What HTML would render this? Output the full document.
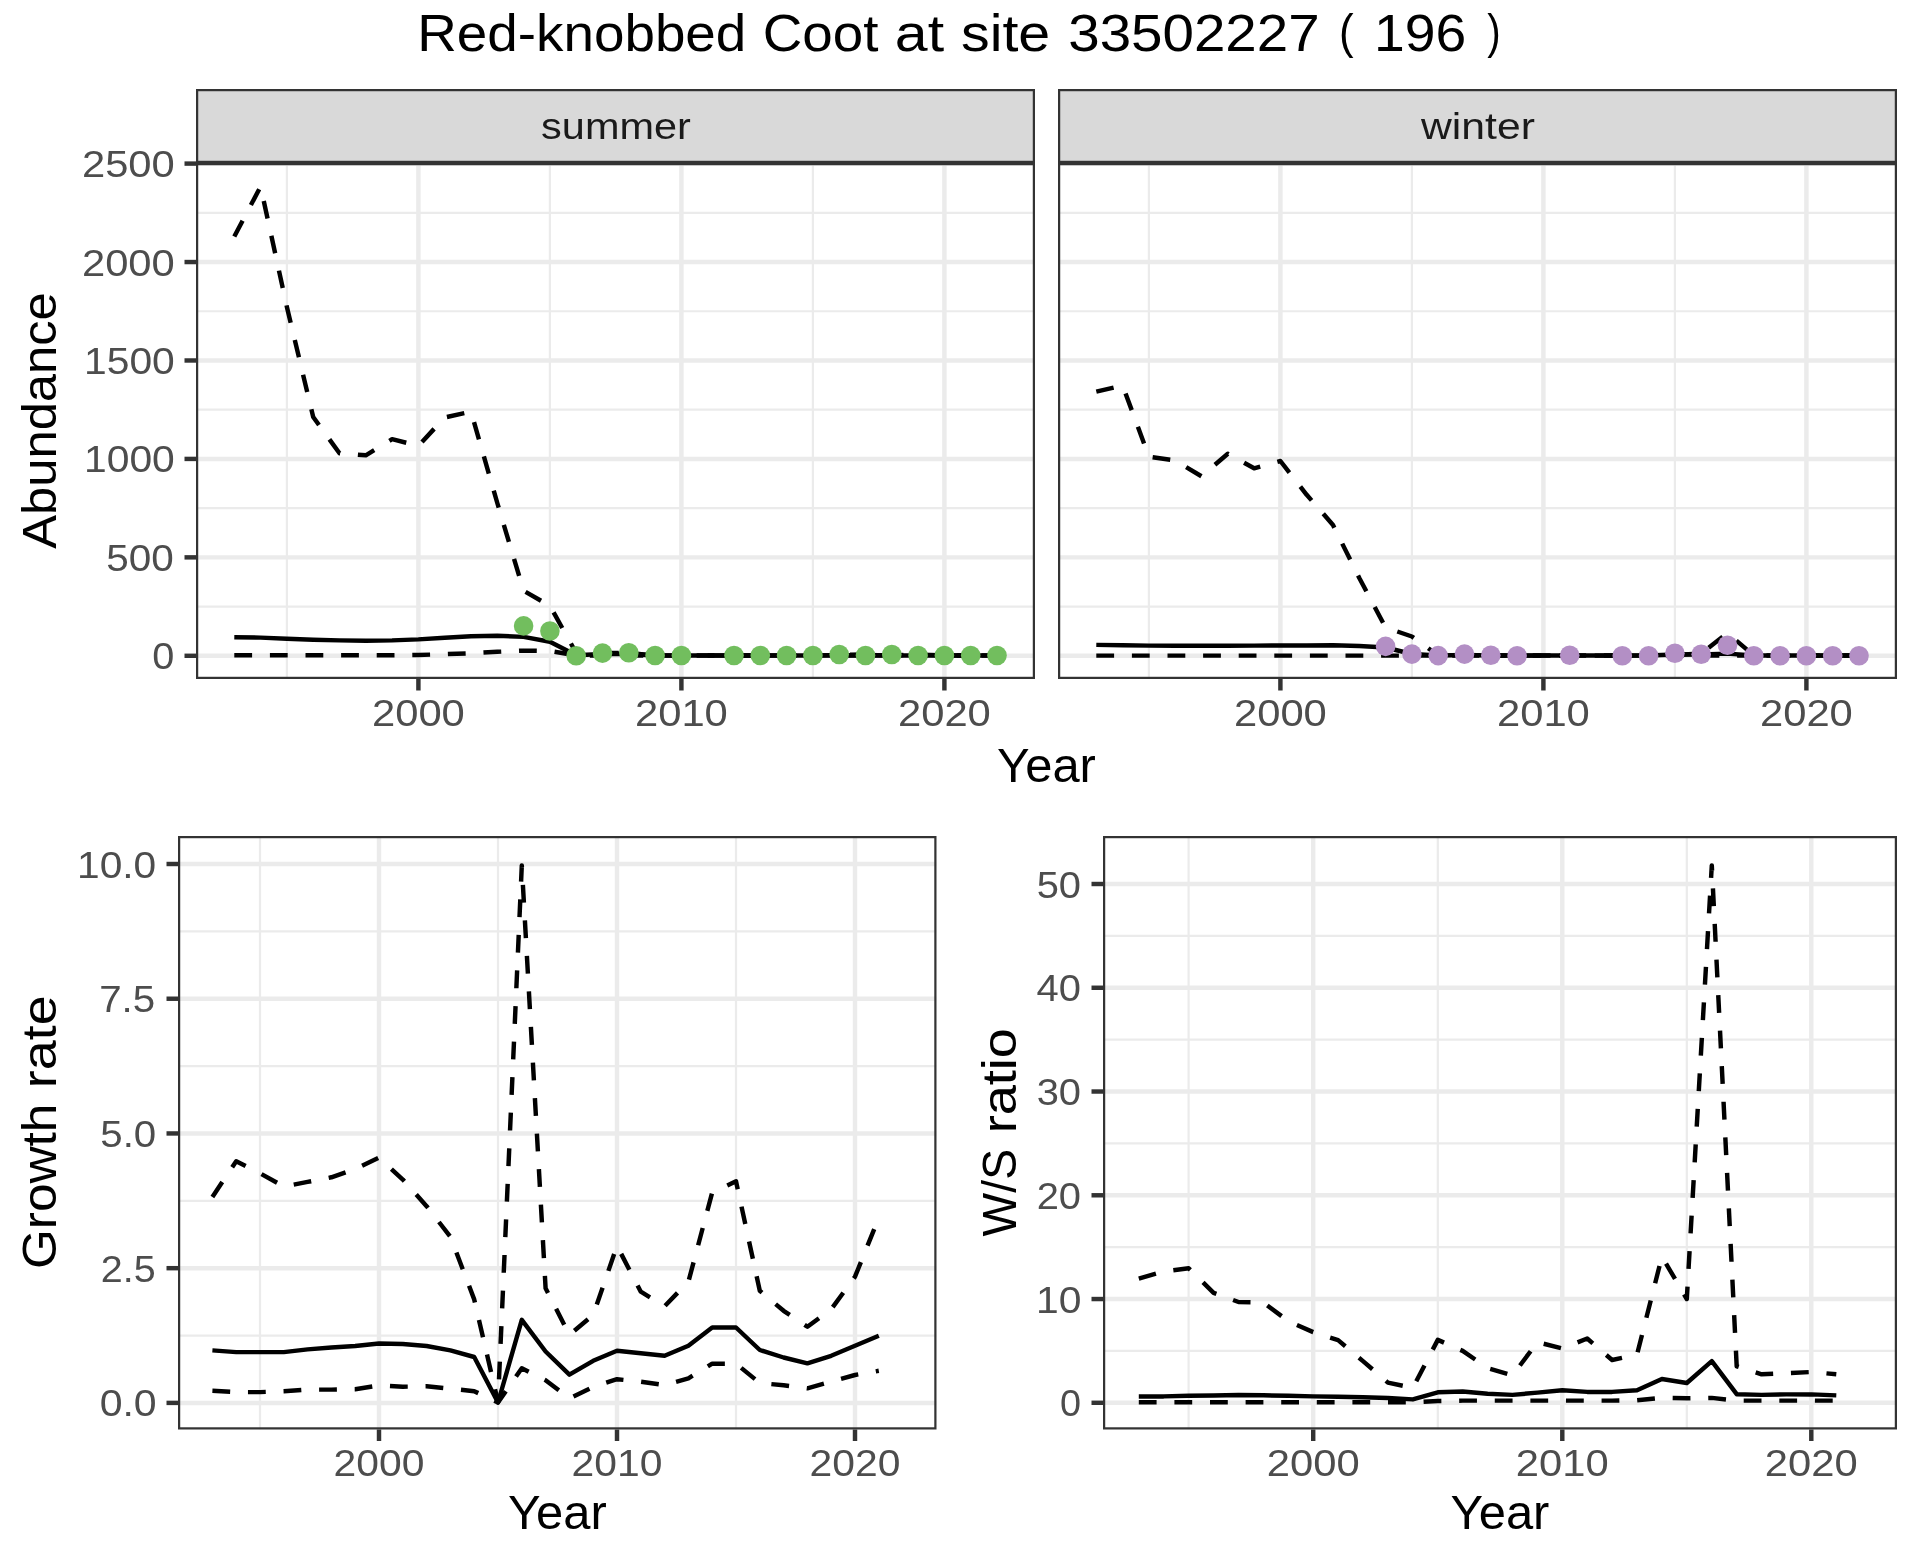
<!DOCTYPE html><html><head><meta charset="utf-8"><style>html,body{margin:0;padding:0;background:#fff;overflow:hidden}svg{display:block;will-change:transform}text{font-family:"Liberation Sans",sans-serif}</style></head><body>
<svg width="1920" height="1560" viewBox="0 0 1920 1560" font-family='"Liberation Sans", sans-serif'>
<rect width="1920" height="1560" fill="#fff"/>
<clipPath id="css"><rect x="196" y="89" width="839" height="74"/></clipPath>
<g clip-path="url(#css)"><rect x="196" y="89" width="839" height="74" fill="#D9D9D9" stroke="#333333" stroke-width="4.45"/></g>
<clipPath id="cs"><rect x="196" y="163" width="839" height="516"/></clipPath>
<g clip-path="url(#cs)">
<rect x="196" y="163" width="839" height="516" fill="#fff"/>
<line x1="196" x2="1035" y1="606.58" y2="606.58" stroke="#EBEBEB" stroke-width="2.22"/>
<line x1="196" x2="1035" y1="508.14" y2="508.14" stroke="#EBEBEB" stroke-width="2.22"/>
<line x1="196" x2="1035" y1="409.70" y2="409.70" stroke="#EBEBEB" stroke-width="2.22"/>
<line x1="196" x2="1035" y1="311.26" y2="311.26" stroke="#EBEBEB" stroke-width="2.22"/>
<line x1="196" x2="1035" y1="212.82" y2="212.82" stroke="#EBEBEB" stroke-width="2.22"/>
<line x1="286.90" x2="286.90" y1="163" y2="679" stroke="#EBEBEB" stroke-width="2.22"/>
<line x1="549.90" x2="549.90" y1="163" y2="679" stroke="#EBEBEB" stroke-width="2.22"/>
<line x1="812.90" x2="812.90" y1="163" y2="679" stroke="#EBEBEB" stroke-width="2.22"/>
<line x1="196" x2="1035" y1="655.80" y2="655.80" stroke="#EBEBEB" stroke-width="4.45"/>
<line x1="196" x2="1035" y1="557.36" y2="557.36" stroke="#EBEBEB" stroke-width="4.45"/>
<line x1="196" x2="1035" y1="458.92" y2="458.92" stroke="#EBEBEB" stroke-width="4.45"/>
<line x1="196" x2="1035" y1="360.48" y2="360.48" stroke="#EBEBEB" stroke-width="4.45"/>
<line x1="196" x2="1035" y1="262.04" y2="262.04" stroke="#EBEBEB" stroke-width="4.45"/>
<line x1="196" x2="1035" y1="163.60" y2="163.60" stroke="#EBEBEB" stroke-width="4.45"/>
<line x1="418.40" x2="418.40" y1="163" y2="679" stroke="#EBEBEB" stroke-width="4.45"/>
<line x1="681.40" x2="681.40" y1="163" y2="679" stroke="#EBEBEB" stroke-width="4.45"/>
<line x1="944.40" x2="944.40" y1="163" y2="679" stroke="#EBEBEB" stroke-width="4.45"/>
<polyline points="234.3,655.2 260.6,655.2 286.9,655.2 313.2,655.2 339.5,655.2 365.8,655.2 392.1,655.2 418.4,655.0 444.7,654.2 471.0,653.2 497.3,651.8 523.6,650.6 549.9,651.0 576.2,655.4 602.5,655.5 628.8,655.5 655.1,655.5 681.4,655.5 707.7,655.5 734.0,655.5 760.3,655.5 786.6,655.5 812.9,655.5 839.2,655.5 865.5,655.5 891.8,655.5 918.1,655.5 944.4,655.5 970.7,655.5 997.0,655.5" fill="none" stroke="#000" stroke-width="4.45" stroke-linejoin="round" stroke-linecap="butt" stroke-dasharray="17.8 17.8"/>
<polyline points="234.3,236.5 260.6,186.6 286.9,307.0 313.2,417.0 339.5,453.3 365.8,455.3 392.1,439.2 418.4,445.8 444.7,417.5 471.0,411.7 497.3,503.0 523.6,590.8 549.9,605.8 576.2,653.0 602.5,653.0 628.8,653.0 655.1,655.5 681.4,655.5 707.7,655.5 734.0,655.5 760.3,655.5 786.6,655.5 812.9,655.5 839.2,655.0 865.5,654.5 891.8,655.5 918.1,654.5 944.4,655.5 970.7,655.5 997.0,655.5" fill="none" stroke="#000" stroke-width="4.45" stroke-linejoin="round" stroke-linecap="butt" stroke-dasharray="17.8 17.8"/>
<polyline points="234.3,637.2 260.6,637.6 286.9,638.7 313.2,639.7 339.5,640.4 365.8,640.7 392.1,640.4 418.4,639.4 444.7,637.8 471.0,636.3 497.3,635.8 523.6,636.9 549.9,641.8 576.2,655.3 602.5,654.0 628.8,654.0 655.1,655.5 681.4,655.5 707.7,655.5 734.0,655.5 760.3,655.5 786.6,655.5 812.9,655.5 839.2,655.5 865.5,655.0 891.8,655.5 918.1,655.5 944.4,655.5 970.7,655.5 997.0,655.5" fill="none" stroke="#000" stroke-width="4.45" stroke-linejoin="round" stroke-linecap="butt"/>
<circle cx="523.6" cy="625.9" r="9.8" fill="#72BE5E"/>
<circle cx="549.9" cy="631.0" r="9.8" fill="#72BE5E"/>
<circle cx="576.2" cy="655.8" r="9.8" fill="#72BE5E"/>
<circle cx="602.5" cy="653.1" r="9.8" fill="#72BE5E"/>
<circle cx="628.8" cy="652.8" r="9.8" fill="#72BE5E"/>
<circle cx="655.1" cy="655.5" r="9.8" fill="#72BE5E"/>
<circle cx="681.4" cy="655.5" r="9.8" fill="#72BE5E"/>
<circle cx="734.0" cy="655.5" r="9.8" fill="#72BE5E"/>
<circle cx="760.3" cy="655.5" r="9.8" fill="#72BE5E"/>
<circle cx="786.6" cy="655.5" r="9.8" fill="#72BE5E"/>
<circle cx="812.9" cy="655.5" r="9.8" fill="#72BE5E"/>
<circle cx="839.2" cy="654.5" r="9.8" fill="#72BE5E"/>
<circle cx="865.5" cy="655.5" r="9.8" fill="#72BE5E"/>
<circle cx="891.8" cy="654.5" r="9.8" fill="#72BE5E"/>
<circle cx="918.1" cy="655.5" r="9.8" fill="#72BE5E"/>
<circle cx="944.4" cy="655.5" r="9.8" fill="#72BE5E"/>
<circle cx="970.7" cy="655.5" r="9.8" fill="#72BE5E"/>
<circle cx="997.0" cy="655.5" r="9.8" fill="#72BE5E"/>
<rect x="196" y="163" width="839" height="516" fill="none" stroke="#333333" stroke-width="4.45"/>
</g>
<line x1="418.40" x2="418.40" y1="679" y2="690.50" stroke="#333333" stroke-width="4.45"/>
<line x1="681.40" x2="681.40" y1="679" y2="690.50" stroke="#333333" stroke-width="4.45"/>
<line x1="944.40" x2="944.40" y1="679" y2="690.50" stroke="#333333" stroke-width="4.45"/>
<clipPath id="cws"><rect x="1058" y="89" width="839" height="74"/></clipPath>
<g clip-path="url(#cws)"><rect x="1058" y="89" width="839" height="74" fill="#D9D9D9" stroke="#333333" stroke-width="4.45"/></g>
<clipPath id="cw"><rect x="1058" y="163" width="839" height="516"/></clipPath>
<g clip-path="url(#cw)">
<rect x="1058" y="163" width="839" height="516" fill="#fff"/>
<line x1="1058" x2="1897" y1="606.58" y2="606.58" stroke="#EBEBEB" stroke-width="2.22"/>
<line x1="1058" x2="1897" y1="508.14" y2="508.14" stroke="#EBEBEB" stroke-width="2.22"/>
<line x1="1058" x2="1897" y1="409.70" y2="409.70" stroke="#EBEBEB" stroke-width="2.22"/>
<line x1="1058" x2="1897" y1="311.26" y2="311.26" stroke="#EBEBEB" stroke-width="2.22"/>
<line x1="1058" x2="1897" y1="212.82" y2="212.82" stroke="#EBEBEB" stroke-width="2.22"/>
<line x1="1148.90" x2="1148.90" y1="163" y2="679" stroke="#EBEBEB" stroke-width="2.22"/>
<line x1="1411.90" x2="1411.90" y1="163" y2="679" stroke="#EBEBEB" stroke-width="2.22"/>
<line x1="1674.90" x2="1674.90" y1="163" y2="679" stroke="#EBEBEB" stroke-width="2.22"/>
<line x1="1058" x2="1897" y1="655.80" y2="655.80" stroke="#EBEBEB" stroke-width="4.45"/>
<line x1="1058" x2="1897" y1="557.36" y2="557.36" stroke="#EBEBEB" stroke-width="4.45"/>
<line x1="1058" x2="1897" y1="458.92" y2="458.92" stroke="#EBEBEB" stroke-width="4.45"/>
<line x1="1058" x2="1897" y1="360.48" y2="360.48" stroke="#EBEBEB" stroke-width="4.45"/>
<line x1="1058" x2="1897" y1="262.04" y2="262.04" stroke="#EBEBEB" stroke-width="4.45"/>
<line x1="1058" x2="1897" y1="163.60" y2="163.60" stroke="#EBEBEB" stroke-width="4.45"/>
<line x1="1280.40" x2="1280.40" y1="163" y2="679" stroke="#EBEBEB" stroke-width="4.45"/>
<line x1="1543.40" x2="1543.40" y1="163" y2="679" stroke="#EBEBEB" stroke-width="4.45"/>
<line x1="1806.40" x2="1806.40" y1="163" y2="679" stroke="#EBEBEB" stroke-width="4.45"/>
<polyline points="1096.3,655.6 1122.6,655.6 1148.9,655.6 1175.2,655.6 1201.5,655.6 1227.8,655.6 1254.1,655.6 1280.4,655.6 1306.7,655.6 1333.0,655.6 1359.3,655.6 1385.6,655.6 1411.9,655.6 1438.2,655.6 1464.5,655.6 1490.8,655.6 1517.1,655.6 1543.4,655.6 1569.7,655.6 1596.0,655.6 1622.3,655.6 1648.6,655.6 1674.9,655.6 1701.2,655.6 1727.5,655.6 1753.8,655.6 1780.1,655.6 1806.4,655.6 1832.7,655.6 1859.0,655.6" fill="none" stroke="#000" stroke-width="4.45" stroke-linejoin="round" stroke-linecap="butt" stroke-dasharray="17.8 17.8"/>
<polyline points="1096.3,391.7 1122.6,385.4 1148.9,456.7 1175.2,460.5 1201.5,476.3 1227.8,453.7 1254.1,468.3 1280.4,461.0 1306.7,494.8 1333.0,525.0 1359.3,578.0 1385.6,627.5 1411.9,636.5 1438.2,655.5 1464.5,655.5 1490.8,655.5 1517.1,655.5 1543.4,655.5 1569.7,655.5 1596.0,655.5 1622.3,655.5 1648.6,655.5 1674.9,655.0 1701.2,653.6 1727.5,633.0 1753.8,655.5 1780.1,655.5 1806.4,655.5 1832.7,655.5 1859.0,655.5" fill="none" stroke="#000" stroke-width="4.45" stroke-linejoin="round" stroke-linecap="butt" stroke-dasharray="17.8 17.8"/>
<polyline points="1096.3,644.9 1122.6,645.3 1148.9,645.6 1175.2,645.8 1201.5,645.8 1227.8,645.8 1254.1,645.6 1280.4,645.5 1306.7,645.4 1333.0,645.3 1359.3,646.0 1385.6,647.5 1411.9,654.0 1438.2,655.5 1464.5,655.0 1490.8,655.5 1517.1,655.5 1543.4,655.5 1569.7,655.5 1596.0,655.5 1622.3,655.5 1648.6,655.5 1674.9,654.5 1701.2,654.5 1727.5,653.6 1753.8,655.5 1780.1,655.5 1806.4,655.5 1832.7,655.5 1859.0,655.5" fill="none" stroke="#000" stroke-width="4.45" stroke-linejoin="round" stroke-linecap="butt"/>
<circle cx="1385.6" cy="646.4" r="9.8" fill="#B38FC5"/>
<circle cx="1411.9" cy="654.1" r="9.8" fill="#B38FC5"/>
<circle cx="1438.2" cy="655.6" r="9.8" fill="#B38FC5"/>
<circle cx="1464.5" cy="654.1" r="9.8" fill="#B38FC5"/>
<circle cx="1490.8" cy="655.3" r="9.8" fill="#B38FC5"/>
<circle cx="1517.1" cy="655.8" r="9.8" fill="#B38FC5"/>
<circle cx="1569.7" cy="655.3" r="9.8" fill="#B38FC5"/>
<circle cx="1622.3" cy="655.8" r="9.8" fill="#B38FC5"/>
<circle cx="1648.6" cy="655.8" r="9.8" fill="#B38FC5"/>
<circle cx="1674.9" cy="653.2" r="9.8" fill="#B38FC5"/>
<circle cx="1701.2" cy="654.3" r="9.8" fill="#B38FC5"/>
<circle cx="1727.5" cy="645.3" r="9.8" fill="#B38FC5"/>
<circle cx="1753.8" cy="655.8" r="9.8" fill="#B38FC5"/>
<circle cx="1780.1" cy="655.8" r="9.8" fill="#B38FC5"/>
<circle cx="1806.4" cy="655.8" r="9.8" fill="#B38FC5"/>
<circle cx="1832.7" cy="655.8" r="9.8" fill="#B38FC5"/>
<circle cx="1859.0" cy="655.8" r="9.8" fill="#B38FC5"/>
<rect x="1058" y="163" width="839" height="516" fill="none" stroke="#333333" stroke-width="4.45"/>
</g>
<line x1="1280.40" x2="1280.40" y1="679" y2="690.50" stroke="#333333" stroke-width="4.45"/>
<line x1="1543.40" x2="1543.40" y1="679" y2="690.50" stroke="#333333" stroke-width="4.45"/>
<line x1="1806.40" x2="1806.40" y1="679" y2="690.50" stroke="#333333" stroke-width="4.45"/>
<line x1="184.50" x2="196" y1="655.80" y2="655.80" stroke="#333333" stroke-width="4.45"/>
<line x1="184.50" x2="196" y1="557.36" y2="557.36" stroke="#333333" stroke-width="4.45"/>
<line x1="184.50" x2="196" y1="458.92" y2="458.92" stroke="#333333" stroke-width="4.45"/>
<line x1="184.50" x2="196" y1="360.48" y2="360.48" stroke="#333333" stroke-width="4.45"/>
<line x1="184.50" x2="196" y1="262.04" y2="262.04" stroke="#333333" stroke-width="4.45"/>
<line x1="184.50" x2="196" y1="163.60" y2="163.60" stroke="#333333" stroke-width="4.45"/>
<clipPath id="cg"><rect x="178" y="836" width="758.5" height="593.5"/></clipPath>
<g clip-path="url(#cg)">
<rect x="178" y="836" width="758.5" height="593.5" fill="#fff"/>
<line x1="178" x2="936.5" y1="1335.54" y2="1335.54" stroke="#EBEBEB" stroke-width="2.22"/>
<line x1="178" x2="936.5" y1="1200.81" y2="1200.81" stroke="#EBEBEB" stroke-width="2.22"/>
<line x1="178" x2="936.5" y1="1066.09" y2="1066.09" stroke="#EBEBEB" stroke-width="2.22"/>
<line x1="178" x2="936.5" y1="931.36" y2="931.36" stroke="#EBEBEB" stroke-width="2.22"/>
<line x1="260.00" x2="260.00" y1="836" y2="1429.5" stroke="#EBEBEB" stroke-width="2.22"/>
<line x1="498.00" x2="498.00" y1="836" y2="1429.5" stroke="#EBEBEB" stroke-width="2.22"/>
<line x1="736.00" x2="736.00" y1="836" y2="1429.5" stroke="#EBEBEB" stroke-width="2.22"/>
<line x1="178" x2="936.5" y1="1402.90" y2="1402.90" stroke="#EBEBEB" stroke-width="4.45"/>
<line x1="178" x2="936.5" y1="1268.18" y2="1268.18" stroke="#EBEBEB" stroke-width="4.45"/>
<line x1="178" x2="936.5" y1="1133.45" y2="1133.45" stroke="#EBEBEB" stroke-width="4.45"/>
<line x1="178" x2="936.5" y1="998.73" y2="998.73" stroke="#EBEBEB" stroke-width="4.45"/>
<line x1="178" x2="936.5" y1="864.00" y2="864.00" stroke="#EBEBEB" stroke-width="4.45"/>
<line x1="379.00" x2="379.00" y1="836" y2="1429.5" stroke="#EBEBEB" stroke-width="4.45"/>
<line x1="617.00" x2="617.00" y1="836" y2="1429.5" stroke="#EBEBEB" stroke-width="4.45"/>
<line x1="855.00" x2="855.00" y1="836" y2="1429.5" stroke="#EBEBEB" stroke-width="4.45"/>
<polyline points="212.4,1390.8 236.2,1392.1 260.0,1392.1 283.8,1391.2 307.6,1389.6 331.4,1389.6 355.2,1389.2 379.0,1385.4 402.8,1386.7 426.6,1386.3 450.4,1388.7 474.2,1391.2 498.0,1402.5 521.8,1368.3 545.6,1380.2 569.4,1398.4 593.2,1386.9 617.0,1379.2 640.8,1381.7 664.6,1385.0 688.4,1378.3 712.2,1363.7 736.0,1363.7 759.8,1383.0 783.6,1385.3 807.4,1388.3 831.2,1381.7 855.0,1375.0 878.8,1370.8" fill="none" stroke="#000" stroke-width="4.45" stroke-linejoin="round" stroke-linecap="butt" stroke-dasharray="17.8 17.8"/>
<polyline points="212.4,1196.9 236.2,1161.3 260.0,1173.3 283.8,1186.5 307.6,1181.9 331.4,1177.3 355.2,1169.0 379.0,1157.7 402.8,1179.6 426.6,1206.2 450.4,1236.7 474.2,1299.4 498.0,1402.0 521.8,865.4 545.6,1288.3 569.4,1334.8 593.2,1315.0 617.0,1245.8 640.8,1291.7 664.6,1306.2 688.4,1281.7 712.2,1192.5 736.0,1181.3 759.8,1290.8 783.6,1310.8 807.4,1326.7 831.2,1309.2 855.0,1276.7 878.8,1217.7" fill="none" stroke="#000" stroke-width="4.45" stroke-linejoin="round" stroke-linecap="butt" stroke-dasharray="17.8 17.8"/>
<polyline points="212.4,1350.4 236.2,1352.1 260.0,1352.1 283.8,1352.1 307.6,1349.4 331.4,1347.5 355.2,1346.0 379.0,1343.5 402.8,1344.0 426.6,1346.0 450.4,1350.4 474.2,1357.0 498.0,1402.5 521.8,1319.9 545.6,1351.5 569.4,1374.6 593.2,1360.8 617.0,1350.8 640.8,1353.3 664.6,1355.8 688.4,1345.8 712.2,1327.5 736.0,1327.5 759.8,1350.0 783.6,1357.5 807.4,1363.3 831.2,1355.8 855.0,1345.8 878.8,1335.8" fill="none" stroke="#000" stroke-width="4.45" stroke-linejoin="round" stroke-linecap="butt"/>
<rect x="178" y="836" width="758.5" height="593.5" fill="none" stroke="#333333" stroke-width="4.45"/>
</g>
<line x1="166.50" x2="178" y1="1402.90" y2="1402.90" stroke="#333333" stroke-width="4.45"/>
<line x1="166.50" x2="178" y1="1268.18" y2="1268.18" stroke="#333333" stroke-width="4.45"/>
<line x1="166.50" x2="178" y1="1133.45" y2="1133.45" stroke="#333333" stroke-width="4.45"/>
<line x1="166.50" x2="178" y1="998.73" y2="998.73" stroke="#333333" stroke-width="4.45"/>
<line x1="166.50" x2="178" y1="864.00" y2="864.00" stroke="#333333" stroke-width="4.45"/>
<line x1="379.00" x2="379.00" y1="1429.5" y2="1441.00" stroke="#333333" stroke-width="4.45"/>
<line x1="617.00" x2="617.00" y1="1429.5" y2="1441.00" stroke="#333333" stroke-width="4.45"/>
<line x1="855.00" x2="855.00" y1="1429.5" y2="1441.00" stroke="#333333" stroke-width="4.45"/>
<clipPath id="cr"><rect x="1103" y="836" width="794" height="593.5"/></clipPath>
<g clip-path="url(#cr)">
<rect x="1103" y="836" width="794" height="593.5" fill="#fff"/>
<line x1="1103" x2="1897" y1="1350.92" y2="1350.92" stroke="#EBEBEB" stroke-width="2.22"/>
<line x1="1103" x2="1897" y1="1247.16" y2="1247.16" stroke="#EBEBEB" stroke-width="2.22"/>
<line x1="1103" x2="1897" y1="1143.40" y2="1143.40" stroke="#EBEBEB" stroke-width="2.22"/>
<line x1="1103" x2="1897" y1="1039.64" y2="1039.64" stroke="#EBEBEB" stroke-width="2.22"/>
<line x1="1103" x2="1897" y1="935.88" y2="935.88" stroke="#EBEBEB" stroke-width="2.22"/>
<line x1="1188.60" x2="1188.60" y1="836" y2="1429.5" stroke="#EBEBEB" stroke-width="2.22"/>
<line x1="1437.80" x2="1437.80" y1="836" y2="1429.5" stroke="#EBEBEB" stroke-width="2.22"/>
<line x1="1686.80" x2="1686.80" y1="836" y2="1429.5" stroke="#EBEBEB" stroke-width="2.22"/>
<line x1="1103" x2="1897" y1="1402.80" y2="1402.80" stroke="#EBEBEB" stroke-width="4.45"/>
<line x1="1103" x2="1897" y1="1299.04" y2="1299.04" stroke="#EBEBEB" stroke-width="4.45"/>
<line x1="1103" x2="1897" y1="1195.28" y2="1195.28" stroke="#EBEBEB" stroke-width="4.45"/>
<line x1="1103" x2="1897" y1="1091.52" y2="1091.52" stroke="#EBEBEB" stroke-width="4.45"/>
<line x1="1103" x2="1897" y1="987.76" y2="987.76" stroke="#EBEBEB" stroke-width="4.45"/>
<line x1="1103" x2="1897" y1="884.00" y2="884.00" stroke="#EBEBEB" stroke-width="4.45"/>
<line x1="1313.20" x2="1313.20" y1="836" y2="1429.5" stroke="#EBEBEB" stroke-width="4.45"/>
<line x1="1562.30" x2="1562.30" y1="836" y2="1429.5" stroke="#EBEBEB" stroke-width="4.45"/>
<line x1="1811.30" x2="1811.30" y1="836" y2="1429.5" stroke="#EBEBEB" stroke-width="4.45"/>
<polyline points="1138.8,1402.2 1163.7,1402.2 1188.7,1402.2 1213.6,1402.2 1238.5,1402.2 1263.4,1402.2 1288.3,1402.2 1313.2,1402.2 1338.1,1402.2 1363.0,1402.2 1387.9,1402.2 1412.8,1402.2 1437.8,1401.0 1462.7,1400.6 1487.6,1400.6 1512.5,1400.6 1537.4,1400.6 1562.3,1400.6 1587.2,1400.6 1612.1,1400.6 1637.0,1400.2 1661.9,1397.9 1686.8,1398.3 1711.8,1397.9 1736.7,1400.6 1761.6,1400.6 1786.5,1400.6 1811.4,1400.6 1836.3,1400.6" fill="none" stroke="#000" stroke-width="4.45" stroke-linejoin="round" stroke-linecap="butt" stroke-dasharray="17.8 17.8"/>
<polyline points="1138.8,1278.6 1163.7,1271.5 1188.7,1268.3 1213.6,1292.8 1238.5,1302.0 1263.4,1302.5 1288.3,1321.1 1313.2,1332.1 1338.1,1340.1 1363.0,1361.1 1387.9,1382.6 1412.8,1387.9 1437.8,1339.9 1462.7,1350.9 1487.6,1368.1 1512.5,1375.4 1537.4,1342.2 1562.3,1348.4 1587.2,1338.5 1612.1,1360.0 1637.0,1354.6 1661.9,1256.6 1686.8,1299.0 1711.8,865.4 1736.7,1366.3 1761.6,1374.3 1786.5,1373.1 1811.4,1372.0 1836.3,1374.3" fill="none" stroke="#000" stroke-width="4.45" stroke-linejoin="round" stroke-linecap="butt" stroke-dasharray="17.8 17.8"/>
<polyline points="1138.8,1396.4 1163.7,1396.4 1188.7,1395.8 1213.6,1395.5 1238.5,1395.0 1263.4,1395.3 1288.3,1395.8 1313.2,1396.4 1338.1,1396.7 1363.0,1397.3 1387.9,1398.0 1412.8,1399.4 1437.8,1392.3 1462.7,1391.5 1487.6,1393.8 1512.5,1394.9 1537.4,1392.6 1562.3,1390.3 1587.2,1391.9 1612.1,1391.9 1637.0,1390.2 1661.9,1379.0 1686.8,1383.0 1711.8,1361.1 1736.7,1394.2 1761.6,1394.9 1786.5,1394.4 1811.4,1394.4 1836.3,1395.4" fill="none" stroke="#000" stroke-width="4.45" stroke-linejoin="round" stroke-linecap="butt"/>
<rect x="1103" y="836" width="794" height="593.5" fill="none" stroke="#333333" stroke-width="4.45"/>
</g>
<line x1="1091.50" x2="1103" y1="1402.80" y2="1402.80" stroke="#333333" stroke-width="4.45"/>
<line x1="1091.50" x2="1103" y1="1299.04" y2="1299.04" stroke="#333333" stroke-width="4.45"/>
<line x1="1091.50" x2="1103" y1="1195.28" y2="1195.28" stroke="#333333" stroke-width="4.45"/>
<line x1="1091.50" x2="1103" y1="1091.52" y2="1091.52" stroke="#333333" stroke-width="4.45"/>
<line x1="1091.50" x2="1103" y1="987.76" y2="987.76" stroke="#333333" stroke-width="4.45"/>
<line x1="1091.50" x2="1103" y1="884.00" y2="884.00" stroke="#333333" stroke-width="4.45"/>
<line x1="1313.20" x2="1313.20" y1="1429.5" y2="1441.00" stroke="#333333" stroke-width="4.45"/>
<line x1="1562.30" x2="1562.30" y1="1429.5" y2="1441.00" stroke="#333333" stroke-width="4.45"/>
<line x1="1811.30" x2="1811.30" y1="1429.5" y2="1441.00" stroke="#333333" stroke-width="4.45"/>
<text x="417.15" y="51.00" text-anchor="start" font-size="51.70" fill="#000" textLength="329.23" lengthAdjust="spacingAndGlyphs">Red-knobbed</text>
<text x="762.79" y="51.00" text-anchor="start" font-size="51.70" fill="#000" textLength="115.70" lengthAdjust="spacingAndGlyphs">Coot</text>
<text x="894.88" y="51.00" text-anchor="start" font-size="51.70" fill="#000" textLength="49.20" lengthAdjust="spacingAndGlyphs">at</text>
<text x="961.01" y="51.00" text-anchor="start" font-size="51.70" fill="#000" textLength="89.26" lengthAdjust="spacingAndGlyphs">site</text>
<text x="1068.21" y="51.00" text-anchor="start" font-size="51.70" fill="#000" textLength="251.45" lengthAdjust="spacingAndGlyphs">33502227</text>
<text x="1339.10" y="47.70" text-anchor="start" font-size="47.90" fill="#000" textLength="14.64" lengthAdjust="spacingAndGlyphs">(</text>
<text x="1374.01" y="51.00" text-anchor="start" font-size="51.70" fill="#000" textLength="92.24" lengthAdjust="spacingAndGlyphs">196</text>
<text x="1487.34" y="47.70" text-anchor="start" font-size="47.90" fill="#000" textLength="13.42" lengthAdjust="spacingAndGlyphs">)</text>
<text x="616.00" y="138.60" text-anchor="middle" font-size="37.50" fill="#1A1A1A" textLength="149.73" lengthAdjust="spacingAndGlyphs">summer</text>
<text x="1478.00" y="138.60" text-anchor="middle" font-size="37.50" fill="#1A1A1A" textLength="113.91" lengthAdjust="spacingAndGlyphs">winter</text>
<text x="174.30" y="669.33" text-anchor="end" font-size="36.70" fill="#4D4D4D" textLength="22.07" lengthAdjust="spacingAndGlyphs">0</text>
<text x="173.80" y="570.89" text-anchor="end" font-size="36.70" fill="#4D4D4D" textLength="67.58" lengthAdjust="spacingAndGlyphs">500</text>
<text x="174.80" y="472.45" text-anchor="end" font-size="36.70" fill="#4D4D4D" textLength="90.80" lengthAdjust="spacingAndGlyphs">1000</text>
<text x="174.80" y="374.01" text-anchor="end" font-size="36.70" fill="#4D4D4D" textLength="90.80" lengthAdjust="spacingAndGlyphs">1500</text>
<text x="174.80" y="275.57" text-anchor="end" font-size="36.70" fill="#4D4D4D" textLength="92.89" lengthAdjust="spacingAndGlyphs">2000</text>
<text x="174.80" y="177.13" text-anchor="end" font-size="36.70" fill="#4D4D4D" textLength="92.89" lengthAdjust="spacingAndGlyphs">2500</text>
<text x="418.40" y="725.90" text-anchor="middle" font-size="36.70" fill="#4D4D4D" textLength="92.89" lengthAdjust="spacingAndGlyphs">2000</text>
<text x="681.40" y="725.90" text-anchor="middle" font-size="36.70" fill="#4D4D4D" textLength="92.89" lengthAdjust="spacingAndGlyphs">2010</text>
<text x="944.40" y="725.90" text-anchor="middle" font-size="36.70" fill="#4D4D4D" textLength="92.89" lengthAdjust="spacingAndGlyphs">2020</text>
<text x="1280.40" y="725.90" text-anchor="middle" font-size="36.70" fill="#4D4D4D" textLength="92.89" lengthAdjust="spacingAndGlyphs">2000</text>
<text x="1543.40" y="725.90" text-anchor="middle" font-size="36.70" fill="#4D4D4D" textLength="92.89" lengthAdjust="spacingAndGlyphs">2010</text>
<text x="1806.40" y="725.90" text-anchor="middle" font-size="36.70" fill="#4D4D4D" textLength="92.89" lengthAdjust="spacingAndGlyphs">2020</text>
<text x="156.70" y="1416.43" text-anchor="end" font-size="36.70" fill="#4D4D4D" textLength="57.05" lengthAdjust="spacingAndGlyphs">0.0</text>
<text x="155.70" y="1281.71" text-anchor="end" font-size="36.70" fill="#4D4D4D" textLength="54.90" lengthAdjust="spacingAndGlyphs">2.5</text>
<text x="156.20" y="1146.98" text-anchor="end" font-size="36.70" fill="#4D4D4D" textLength="55.95" lengthAdjust="spacingAndGlyphs">5.0</text>
<text x="155.20" y="1012.26" text-anchor="end" font-size="36.70" fill="#4D4D4D" textLength="55.99" lengthAdjust="spacingAndGlyphs">7.5</text>
<text x="156.20" y="877.53" text-anchor="end" font-size="36.70" fill="#4D4D4D" textLength="79.17" lengthAdjust="spacingAndGlyphs">10.0</text>
<text x="379.00" y="1475.60" text-anchor="middle" font-size="36.70" fill="#4D4D4D" textLength="90.83" lengthAdjust="spacingAndGlyphs">2000</text>
<text x="617.00" y="1475.60" text-anchor="middle" font-size="36.70" fill="#4D4D4D" textLength="90.83" lengthAdjust="spacingAndGlyphs">2010</text>
<text x="855.00" y="1475.60" text-anchor="middle" font-size="36.70" fill="#4D4D4D" textLength="90.83" lengthAdjust="spacingAndGlyphs">2020</text>
<text x="1081.00" y="1416.33" text-anchor="end" font-size="36.70" fill="#4D4D4D" textLength="21.02" lengthAdjust="spacingAndGlyphs">0</text>
<text x="1081.50" y="1312.57" text-anchor="end" font-size="36.70" fill="#4D4D4D" textLength="45.40" lengthAdjust="spacingAndGlyphs">10</text>
<text x="1081.00" y="1208.81" text-anchor="end" font-size="36.70" fill="#4D4D4D" textLength="44.34" lengthAdjust="spacingAndGlyphs">20</text>
<text x="1081.00" y="1105.05" text-anchor="end" font-size="36.70" fill="#4D4D4D" textLength="44.34" lengthAdjust="spacingAndGlyphs">30</text>
<text x="1081.00" y="1001.29" text-anchor="end" font-size="36.70" fill="#4D4D4D" textLength="44.39" lengthAdjust="spacingAndGlyphs">40</text>
<text x="1081.00" y="897.53" text-anchor="end" font-size="36.70" fill="#4D4D4D" textLength="44.34" lengthAdjust="spacingAndGlyphs">50</text>
<text x="1313.20" y="1475.60" text-anchor="middle" font-size="36.70" fill="#4D4D4D" textLength="92.89" lengthAdjust="spacingAndGlyphs">2000</text>
<text x="1562.30" y="1475.60" text-anchor="middle" font-size="36.70" fill="#4D4D4D" textLength="92.89" lengthAdjust="spacingAndGlyphs">2010</text>
<text x="1811.30" y="1475.60" text-anchor="middle" font-size="36.70" fill="#4D4D4D" textLength="92.89" lengthAdjust="spacingAndGlyphs">2020</text>
<text x="1046.50" y="781.60" text-anchor="middle" font-size="48.67" fill="#000" textLength="98.77" lengthAdjust="spacingAndGlyphs">Year</text>
<text x="557.30" y="1528.50" text-anchor="middle" font-size="48.67" fill="#000" textLength="98.77" lengthAdjust="spacingAndGlyphs">Year</text>
<text x="1500.00" y="1528.50" text-anchor="middle" font-size="48.67" fill="#000" textLength="98.77" lengthAdjust="spacingAndGlyphs">Year</text>
<text transform="translate(56.00,420.50) rotate(-90)" x="0.00" text-anchor="middle" font-size="48.67" fill="#000" textLength="256.35" lengthAdjust="spacingAndGlyphs">Abundance</text>
<text transform="translate(56.00,1132.75) rotate(-90)" x="-136.35" text-anchor="start" font-size="48.67" fill="#000" textLength="165.38" lengthAdjust="spacingAndGlyphs">Growth</text>
<text transform="translate(56.00,1131.75) rotate(-90)" x="43.54" text-anchor="start" font-size="48.67" fill="#000" textLength="92.84" lengthAdjust="spacingAndGlyphs">rate</text>
<text transform="translate(1015.60,1131.75) rotate(-90)" x="-104.72" text-anchor="start" font-size="48.67" fill="#000" textLength="87.54" lengthAdjust="spacingAndGlyphs">W/S</text>
<text transform="translate(1015.60,1132.75) rotate(-90)" x="-0.64" text-anchor="start" font-size="48.67" fill="#000" textLength="105.34" lengthAdjust="spacingAndGlyphs">ratio</text>
</svg></body></html>
